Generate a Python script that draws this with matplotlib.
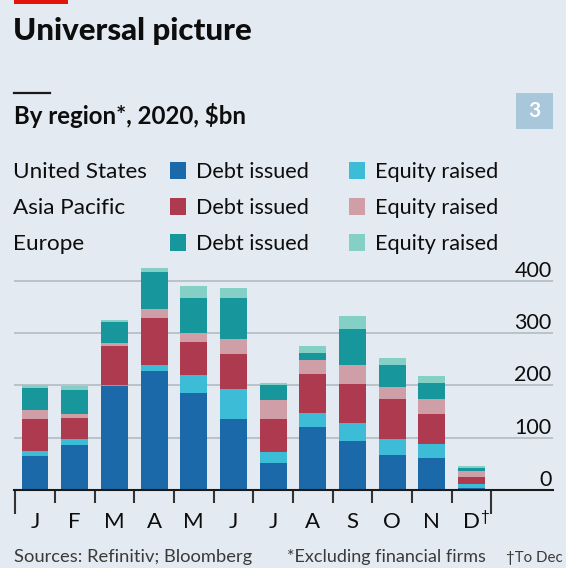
import matplotlib
matplotlib.use("Agg")
import matplotlib.pyplot as plt
import matplotlib.transforms as mtransforms
from matplotlib.patches import Rectangle
from matplotlib.lines import Line2D
import numpy as np

plt.rcParams['font.family'] = ['Lato', 'DejaVu Sans']

# ---------------- data ----------------
months = ["J", "F", "M", "A", "M", "J", "J", "A", "S", "O", "N", "D"]
us_debt = [65, 86, 199, 227, 185, 136, 51, 121, 94, 66, 62, 3]
us_equity = [10, 11, 1, 12, 35, 57, 21, 27, 35, 32, 25, 9]
ap_debt = [60, 41, 76, 90, 62, 67, 63, 73, 73, 76, 58, 13]
ap_equity = [17, 8, 5, 17, 18, 29, 37, 27, 36, 22, 28, 12]
eu_debt = [43, 45, 40, 70, 67, 78, 29, 14, 70, 42, 32, 5]
eu_equity = [6, 8, 4, 8, 22, 19, 4, 13, 24, 15, 13, 3]
regions = ["United States", "Asia Pacific", "Europe"]
series_kinds = ["Debt issued", "Equity raised"]
yticks = [0, 100, 200, 300, 400]

colors = {
    "us_debt": "#1b69a8", "us_equity": "#3cbcd6",
    "ap_debt": "#ae3a4f", "ap_equity": "#cf9ea7",
    "eu_debt": "#17969c", "eu_equity": "#84cfc6",
}

W, H = 566, 568
bg = "#e3eaf1"
fig = plt.figure(figsize=(W / 100, H / 100), dpi=100)
fig.patch.set_facecolor(bg)


def fx(px):
    return px / W


def fy(py):
    return 1 - py / H


# header decorations
fig.add_artist(Rectangle((fx(14), fy(4)), (68 - 14) / W, 4 / H,
                         transform=fig.transFigure, color="#e3120b", lw=0))
fig.text(fx(13), fy(40), "Universal picture", fontsize=22.5,
         fontweight="black", va="baseline", color="#0d0d0d")
fig.add_artist(Line2D([fx(14), fx(50)], [fy(93), fy(93)],
                      transform=fig.transFigure, color="#1a1a1a", lw=1.6))
fig.text(fx(14), fy(124), "By region*, 2020, $bn", fontsize=17.3,
         fontweight="bold", va="baseline", color="#0d0d0d")
fig.add_artist(Rectangle((fx(516), fy(129)), 37 / W, 36 / H,
                         transform=fig.transFigure, color="#a9c7da", lw=0))
fig.text(fx(534.5), fy(111), "3", fontsize=15, fontweight="bold",
         color="white", ha="center", va="center")

# legend
row_base = [177.5, 213.5, 250]
keys = [("us_debt", "us_equity"), ("ap_debt", "ap_equity"), ("eu_debt", "eu_equity")]
for r, region in enumerate(regions):
    b = row_base[r]
    fig.text(fx(13), fy(b), region, fontsize=16.2, va="baseline", color="#0d0d0d")
    for k, (sx, tx) in enumerate([(170, 196), (349, 375)]):
        fig.add_artist(Rectangle((fx(sx), fy(b + 1.5)), 16 / W, 17 / H,
                                 transform=fig.transFigure,
                                 color=colors[keys[r][k]], lw=0))
        fig.text(fx(tx), fy(b), series_kinds[k], fontsize=15.6,
                 va="baseline", color="#0d0d0d")

# chart axes
ax = fig.add_axes([fx(14), fy(490), 539 / W, (490 - 259.8) / H])
ax.set_facecolor("none")
ax.set_xlim(-0.529, 13.05)
ax.set_ylim(0, 440)
for s in ["top", "left", "right"]:
    ax.spines[s].set_visible(False)
ax.spines["bottom"].set_color("#1a1a1a")
ax.spines["bottom"].set_linewidth(1.5)
ax.spines["bottom"].set_zorder(5)

for v in yticks[1:]:
    ax.axhline(v, color="#b7bfc6", lw=1.3, zorder=0)
for v in yticks:
    ax.annotate(str(v), xy=(1, v), xycoords=("axes fraction", "data"),
                xytext=(-1, 2.9), textcoords="offset points",
                ha="right", va="baseline", fontsize=15.5, color="#0d0d0d")

x = np.arange(len(months))
bw = 0.68
stack = [us_debt, us_equity, ap_debt, ap_equity, eu_debt, eu_equity]
names = ["us_debt", "us_equity", "ap_debt", "ap_equity", "eu_debt", "eu_equity"]
bottom = np.zeros(len(months))
for vals, nm in zip(stack, names):
    ax.bar(x, vals, bw, bottom=bottom, color=colors[nm], lw=0, zorder=2)
    bottom += np.array(vals)

# ticks between months
bounds = np.arange(-0.5, len(months), 1.0)
ax.set_xticks(bounds)
ax.set_xticklabels([])
ax.tick_params(axis="x", length=9, width=1.5, color="#333333", direction="out")
ax.set_yticks([])
xt = ax.xaxis.get_major_ticks()
xt[0].tick1line.set_markersize(17)
xt[-1].tick1line.set_markersize(17)

trans = mtransforms.blended_transform_factory(ax.transData, fig.transFigure)
for i, m in enumerate(months):
    ax.text(i, fy(528.3), m, transform=trans, ha="center", va="baseline",
            fontsize=16, color="#0d0d0d")
# dagger on December
ax.annotate("\u2020", xy=(len(months) - 1, fy(528.3)), xycoords=trans,
            xytext=(6, 5), textcoords="offset points", ha="left",
            va="baseline", fontsize=11, color="#0d0d0d")

# footnotes
fig.text(fx(14), fy(561.7), "Sources: Refinitiv; Bloomberg", fontsize=13.2,
         va="baseline", color="#3a3a3a")
fig.text(fx(287), fy(561.7), "*Excluding financial firms", fontsize=13.0,
         va="baseline", color="#3a3a3a")
fig.text(fx(506), fy(561.7), "\u2020To Dec", fontsize=10.8, va="baseline",
         color="#3a3a3a")

fig.savefig("out.png", dpi=100, facecolor=bg)
